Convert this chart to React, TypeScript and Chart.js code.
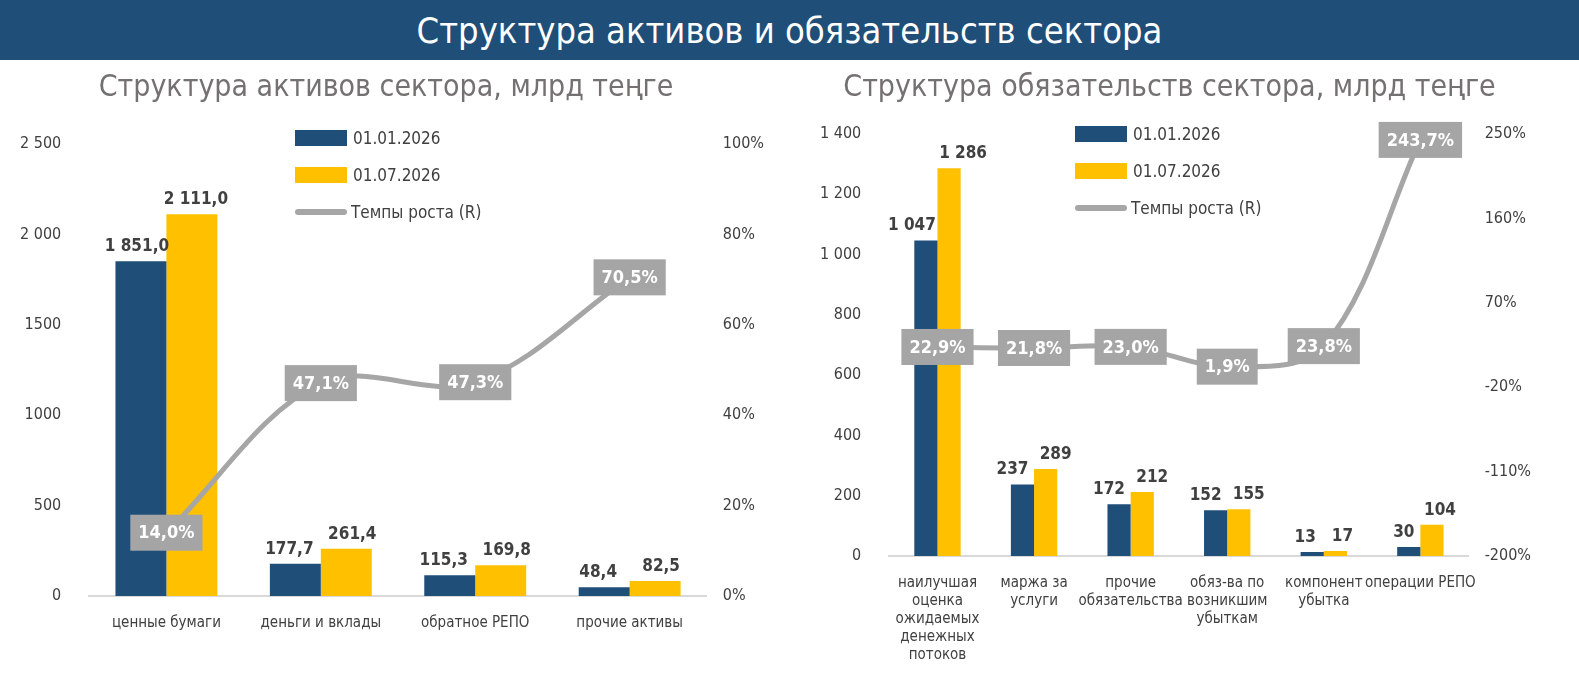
import React, { useEffect, useRef } from "react";
import { Chart, registerables } from "chart.js";
Chart.register(...registerables);

const FONT = "'Liberation Sans Narrow', 'DejaVu Sans Condensed', 'Roboto Condensed', sans-serif";
const NAVY = "#1F4E79";
const GOLD = "#FFC000";
const LINEC = "#A6A6A6";

const assetCats = ["ценные бумаги", "деньги и вклады", "обратное РЕПО", "прочие активы"];
const assetJan = [1851.0, 177.7, 115.3, 48.4];
const assetJul = [2111.0, 261.4, 169.8, 82.5];
const assetGrowth = [14.0, 47.1, 47.3, 70.5];
const assetLeftTicks = ["0", "500", "1000", "1500", "2 000", "2 500"];

const liabCats = [
  ["наилучшая", "оценка", "ожидаемых", "денежных", "потоков"],
  ["маржа за", "услуги"],
  ["прочие", "обязательства"],
  ["обяз-ва по", "возникшим", "убыткам"],
  ["компонент", "убытка"],
  ["операции РЕПО"],
];
const liabJan = [1047, 237, 172, 152, 13, 30];
const liabJul = [1286, 289, 212, 155, 17, 104];
const liabGrowth = [22.9, 21.8, 23.0, 1.9, 23.8, 243.7];

const fmt = (v: number, dec: number) => {
  const s = v.toFixed(dec).replace(".", ",");
  const [i, d] = s.split(",");
  const ii = i.replace(/\B(?=(\d{3})+(?!\d))/g, " ");
  return d ? ii + "," + d : ii;
};

function makeChart(canvas: HTMLCanvasElement, cfg: any) {
  const labelsPlugin = {
    id: "lbls",
    afterDatasetsDraw(chart: any) {
      const ctx = chart.ctx;
      ctx.save();
      [0, 1].forEach((di) => {
        const meta = chart.getDatasetMeta(di);
        const data = chart.data.datasets[di].data;
        meta.data.forEach((el: any, i: number) => {
          ctx.font = "bold " + cfg.lblSize + "px " + FONT;
          ctx.fillStyle = "#404040";
          ctx.textAlign = "center";
          ctx.textBaseline = "bottom";
          const off = cfg.offsets[di][i];
          ctx.fillText(fmt(data[i], cfg.dec), el.x + off, el.y - 6);
        });
      });
      const meta = chart.getDatasetMeta(2);
      const data = chart.data.datasets[2].data;
      meta.data.forEach((el: any, i: number) => {
        const t = fmt(data[i], 1) + "%";
        ctx.font = "bold 18px " + FONT;
        const w = ctx.measureText(t).width + 16;
        const h = 36;
        ctx.fillStyle = "#A5A5A5";
        ctx.fillRect(el.x - w / 2, el.y - h / 2, w, h);
        ctx.fillStyle = "#FFFFFF";
        ctx.textAlign = "center";
        ctx.textBaseline = "middle";
        ctx.fillText(t, el.x, el.y + 1);
      });
      ctx.restore();
    },
  };
  return new Chart(canvas, {
    type: "bar",
    data: {
      labels: cfg.cats,
      datasets: [
        { label: "01.01.2026", data: cfg.jan, backgroundColor: NAVY, yAxisID: "y", order: 2, categoryPercentage: cfg.cp, barPercentage: 1 },
        { label: "01.07.2026", data: cfg.jul, backgroundColor: GOLD, yAxisID: "y", order: 2, categoryPercentage: cfg.cp, barPercentage: 1 },
        { type: "line", label: "Темпы роста (R)", data: cfg.growth, borderColor: LINEC, borderWidth: 5, pointRadius: 0, tension: 0.35, yAxisID: "y1", order: 0 } as any,
      ],
    },
    options: {
      animation: false,
      responsive: false,
      layout: { padding: { left: cfg.padL, right: cfg.padR, top: 0, bottom: 0 } },
      plugins: {
        legend: { display: false },
        tooltip: { enabled: false },
        title: {
          display: true,
          text: cfg.title,
          color: "#767171",
          font: { family: FONT, size: 30, weight: "normal" },
          padding: { top: 8, bottom: cfg.titleBottom },
        },
      },
      scales: {
        x: {
          grid: { display: false },
          border: { color: "#D9D9D9", width: 2 },
          ticks: { color: "#404040", font: { family: FONT, size: 15 }, maxRotation: 0, autoSkip: false, padding: cfg.xPad },
        },
        y: {
          min: 0,
          max: cfg.yMax,
          ticks: { stepSize: cfg.yStep, color: "#404040", font: { family: FONT, size: 16 }, padding: 20, callback: (v: any, i: number) => cfg.yTicks(v, i) },
          grid: { display: false },
          border: { display: false },
        },
        y1: {
          position: "right",
          min: cfg.rMin,
          max: cfg.rMax,
          ticks: { stepSize: cfg.rStep, color: "#404040", font: { family: FONT, size: 16 }, padding: 8, callback: (v: any) => v + "%" },
          grid: { display: false },
          border: { display: false },
        },
      },
    },
    plugins: [labelsPlugin],
  } as any);
}

function Legend({ left, top }: { left: number; top: number }) {
  const row = (h: number): React.CSSProperties => ({ display: "flex", alignItems: "center", height: h, fontFamily: FONT, fontSize: 17, color: "#404040" });
  return (
    <div style={{ position: "absolute", left, top }}>
      <div style={row(37)}><div style={{ width: 52, height: 16, background: NAVY, marginRight: 6 }} />01.01.2026</div>
      <div style={row(37)}><div style={{ width: 52, height: 16, background: GOLD, marginRight: 6 }} />01.07.2026</div>
      <div style={row(37)}><div style={{ width: 52, height: 6, borderRadius: 3, background: LINEC, marginRight: 4 }} />Темпы роста (R)</div>
    </div>
  );
}

export default function App() {
  const r1 = useRef<HTMLCanvasElement>(null);
  const r2 = useRef<HTMLCanvasElement>(null);
  useEffect(() => {
    document.body.style.margin = "0";
    const c1 = makeChart(r1.current!, {
      cats: assetCats, jan: assetJan, jul: assetJul, growth: assetGrowth, dec: 1, cp: 0.66,
      title: "Структура активов сектора, млрд теңге", titleBottom: 38, padL: 0, padR: 18, xPad: 10, lblSize: 17,
      offsets: [[-4, -6, -6, -6], [4, 6, 6, 6]],
      yMax: 2500, yStep: 500, yTicks: (_v: any, i: number) => assetLeftTicks[i],
      rMin: 0, rMax: 100, rStep: 20,
    });
    const c2 = makeChart(r2.current!, {
      cats: liabCats, jan: liabJan, jul: liabJul, growth: liabGrowth, dec: 0, cp: 0.48, xPad: 10, lblSize: 17,
      title: "Структура обязательств сектора, млрд теңге", titleBottom: 28, padL: 10, padR: 40,
      offsets: [[-14, -10, -10, -10, -7, -5], [14, 10, 10, 10, 7, 8]],
      yMax: 1400, yStep: 200, yTicks: (v: any) => fmt(v, 0),
      rMin: -200, rMax: 250, rStep: 90,
    });
    return () => { c1.destroy(); c2.destroy(); };
  }, []);
  return (
    <div style={{ position: "relative", width: 1579, height: 677, background: "#fff", overflow: "hidden" }}>
      <div style={{ position: "absolute", left: 0, top: 0, width: 1579, height: 60, background: NAVY, color: "#fff", fontFamily: FONT, fontSize: 36, display: "flex", alignItems: "center", justifyContent: "center" }}>
        Структура активов и обязательств сектора
      </div>
      <canvas ref={r1} width={790} height={580} style={{ position: "absolute", left: 0, top: 62 }} />
      <canvas ref={r2} width={789} height={612} style={{ position: "absolute", left: 790, top: 62 }} />
      <Legend left={295} top={119} />
      <Legend left={1075} top={115} />
    </div>
  );
}
